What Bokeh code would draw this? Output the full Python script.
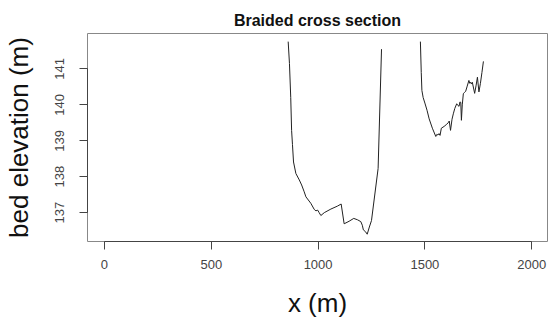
from bokeh.plotting import figure
from bokeh.models import Range1d, FixedTicker
from bokeh.embed import file_html
from bokeh.resources import INLINE

# Surveyed bed profile, left (main) channel: distance across (m) and bed elevation (m)
left_x = [860, 866, 872, 876, 880, 885, 896, 912, 923, 935, 943, 966, 982, 990,
          998, 1005, 1013, 1029, 1060, 1090, 1108, 1122, 1145, 1167, 1185, 1200,
          1207, 1212, 1222, 1230, 1240, 1250, 1281, 1297]
left_z = [141.76, 141.15, 140.20, 139.29, 138.90, 138.41, 138.09, 137.91, 137.77,
          137.58, 137.44, 137.26, 137.09, 137.05, 137.07, 137.00, 136.92, 137.00,
          137.10, 137.18, 137.24, 136.69, 136.76, 136.84, 136.80, 136.75, 136.65,
          136.52, 136.47, 136.40, 136.60, 136.78, 138.23, 141.55]

# Right (secondary) channel
right_x = [1479, 1483, 1486, 1492, 1500, 1510, 1520, 1535, 1551, 1556, 1561, 1566,
           1571, 1577, 1590, 1600, 1609, 1614, 1620, 1627, 1633, 1640, 1649, 1655,
           1660, 1664, 1668, 1671, 1675, 1680, 1686, 1691, 1697, 1706, 1710, 1714,
           1718, 1722, 1733, 1740, 1746, 1753, 1760, 1767, 1774]
right_z = [141.76, 140.90, 140.40, 140.20, 140.05, 139.85, 139.61, 139.35, 139.12,
           139.18, 139.16, 139.20, 139.15, 139.35, 139.40, 139.45, 139.50, 139.55,
           139.29, 139.60, 139.75, 139.90, 140.03, 139.98, 139.96, 140.08, 140.07,
           139.57, 140.00, 140.31, 140.35, 140.38, 140.50, 140.68, 140.60, 140.63,
           140.58, 140.63, 140.32, 140.55, 140.77, 140.36, 140.60, 140.90, 141.21]

x_ticks = [0, 500, 1000, 1500, 2000]
z_ticks = [137, 138, 139, 140, 141]

FONT = "Liberation Sans"

p = figure(width=548, height=320, output_backend="svg", toolbar_location=None,
           x_range=Range1d(-79.5, 2074), y_range=Range1d(136.197, 141.986),
           min_border_left=86, min_border_right=1, min_border_top=33,
           min_border_bottom=78,
           title="Braided cross section")

p.title.align = "center"
p.title.text_font = FONT
p.title.text_font_size = "16px"
p.title.text_font_style = "bold"
p.title.text_color = "#111111"

p.background_fill_color = "white"
p.border_fill_color = "white"
p.outline_line_color = "#888888"
p.outline_line_width = 1
p.xgrid.visible = False
p.ygrid.visible = False

for ax, ticks in ((p.xaxis[0], x_ticks), (p.yaxis[0], z_ticks)):
    ax.ticker = FixedTicker(ticks=ticks)
    ax.minor_tick_line_color = None
    ax.major_tick_in = 0
    ax.major_tick_out = 8
    ax.axis_line_color = "#444444"
    ax.major_tick_line_color = "#444444"
    ax.major_label_text_font = FONT
    ax.major_label_text_font_size = "13px"
    ax.major_label_text_color = "#444444"
    ax.axis_label_text_font = FONT
    ax.axis_label_text_font_size = "26px"
    ax.axis_label_text_font_style = "normal"
    ax.axis_label_text_color = "#111111"

p.xaxis[0].bounds = (0, 2000)
p.yaxis[0].bounds = (137, 141)
p.xaxis[0].axis_label = "x (m)"
p.yaxis[0].axis_label = "bed elevation (m)"
p.xaxis[0].major_label_standoff = 10
p.xaxis[0].axis_label_standoff = 16
p.yaxis[0].major_label_orientation = "vertical"
p.yaxis[0].major_label_standoff = 15
p.yaxis[0].axis_label_standoff = 19

p.line(left_x, left_z, line_color="#222222", line_width=1)
p.line(right_x, right_z, line_color="#222222", line_width=1)

open("out.html", "w").write(file_html(p, INLINE))
